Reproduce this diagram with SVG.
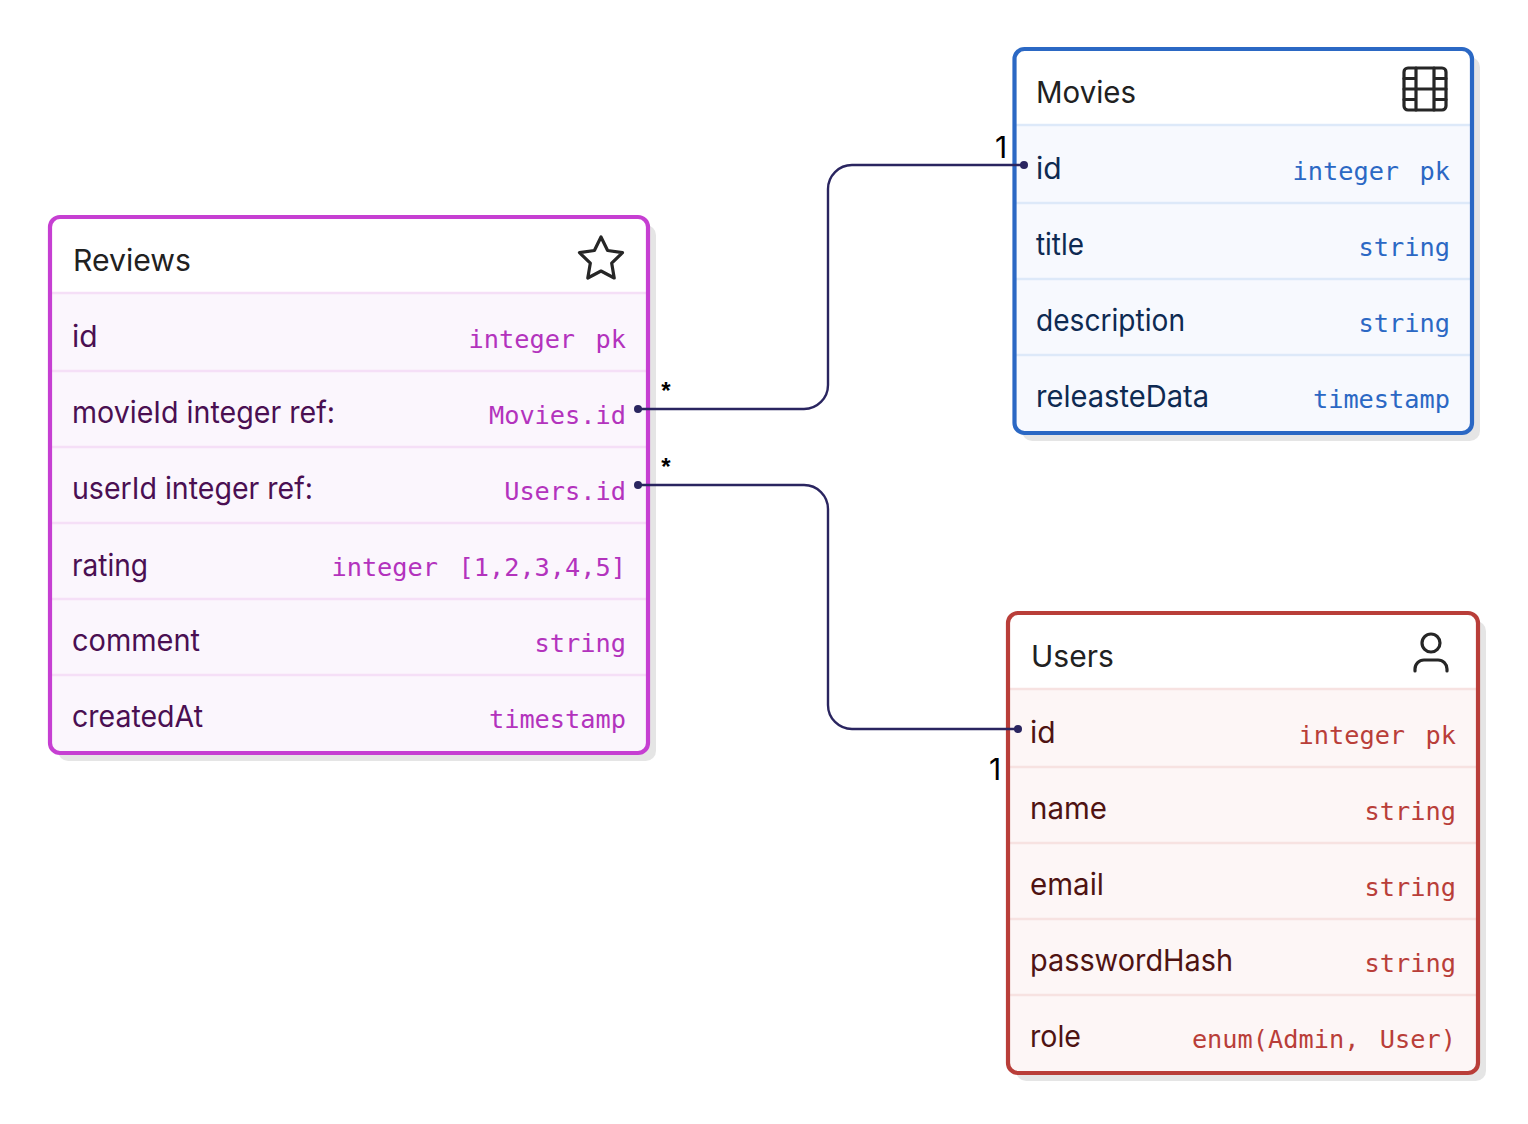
<svg xmlns="http://www.w3.org/2000/svg" width="1528" height="1124" viewBox="0 0 1528 1124">
<style>
text{font-family:"Inter","Liberation Sans",sans-serif;font-size:30px}
.t{fill:#212121}
.m{font-family:"DejaVu Sans Mono","Liberation Mono",monospace;font-size:25.3px;text-anchor:end;word-spacing:5.2px}
.shadow{fill:#000;fill-opacity:.1}
.box{stroke-width:4.2}
.sep{stroke-width:2.5}
.ico{fill:none;stroke:#262626;stroke-width:3.2;stroke-linecap:round;stroke-linejoin:round}
.edge{fill:none;stroke:#2a2560;stroke-width:2.4}
.dot{fill:#2a2560}
.lab{font-size:30px;fill:#000}
.star{font-family:"Liberation Sans",sans-serif;font-size:24px;fill:#000;font-weight:bold}
.rv .n{fill:#4a0f52}.rv .m{fill:#b333bd}.rv .sep{stroke:#f5dff7}.rv .bg{fill:#fbf6fd}.rv .box{stroke:#c63fd2}
.mv .n{fill:#0e2a52}.mv .m{fill:#2b68c4}.mv .sep{stroke:#dde9f9}.mv .bg{fill:#f7f9fe}.mv .box{stroke:#2b68c4}
.us .n{fill:#4f1312}.us .m{fill:#b93e39}.us .sep{stroke:#f7e2e1}.us .bg{fill:#fdf6f6}.us .box{stroke:#b93e39}
</style>
<g id="reviews" class="rv">
<rect class="shadow" x="58" y="225" width="598" height="536" rx="10"/>
<rect x="50" y="217" width="598" height="536" rx="10" fill="#fff"/>
<path class="bg" d="M50 293H648V743a10 10 0 0 1-10 10H60a10 10 0 0 1-10-10Z"/>
<path class="sep" d="M52 293H646M52 371H646M52 447H646M52 523H646M52 599H646M52 675H646"/>
<rect class="box" x="50" y="217" width="598" height="536" rx="10" fill="none"/>
<text class="t" x="73" y="271" textLength="118" lengthAdjust="spacingAndGlyphs">Reviews</text>
<path class="ico" d="M601 237l6.600 13.500 14.900 2.200-10.800 10.500 2.500 14.800-13.200-7-13.200 7 2.500-14.800-10.800-10.500 14.900-2.200Z"/>
<text class="n" x="72" y="347">id</text><text class="m" x="626" y="348">integer pk</text>
<text class="n" x="72" y="423" textLength="263" lengthAdjust="spacingAndGlyphs">movieId integer ref:</text><text class="m" x="626" y="424">Movies.id</text>
<text class="n" x="72" y="499" textLength="241" lengthAdjust="spacingAndGlyphs">userId integer ref:</text><text class="m" x="626" y="500">Users.id</text>
<text class="n" x="72" y="576" textLength="76" lengthAdjust="spacingAndGlyphs">rating</text><text class="m" x="626" y="576">integer [1,2,3,4,5]</text>
<text class="n" x="72" y="651" textLength="128" lengthAdjust="spacingAndGlyphs">comment</text><text class="m" x="626" y="652">string</text>
<text class="n" x="72" y="727" textLength="131" lengthAdjust="spacingAndGlyphs">createdAt</text><text class="m" x="626" y="728">timestamp</text>
</g>
<g id="movies" class="mv">
<rect class="shadow" x="1022" y="57" width="458" height="384" rx="10"/>
<rect x="1014.500" y="49" width="457.500" height="384" rx="10" fill="#fff"/>
<path class="bg" d="M1014.500 125H1472V423a10 10 0 0 1-10 10H1024.500a10 10 0 0 1-10-10Z"/>
<path class="sep" d="M1016 125H1470M1016 203H1470M1016 279H1470M1016 355H1470"/>
<rect class="box" x="1014.500" y="49" width="457.500" height="384" rx="10" fill="none"/>
<text class="t" x="1036" y="103" textLength="100" lengthAdjust="spacingAndGlyphs">Movies</text>
<rect class="ico" x="1404" y="68" width="42" height="42" rx="4"/>
<path class="ico" d="M1416 68V110M1434 68V110M1404 89H1446M1404 78.500H1416M1404 99.500H1416M1434 78.500H1446M1434 99.500H1446"/>
<text class="n" x="1036" y="179">id</text><text class="m" x="1450" y="180">integer pk</text>
<text class="n" x="1036" y="255" textLength="48" lengthAdjust="spacingAndGlyphs">title</text><text class="m" x="1450" y="256">string</text>
<text class="n" x="1036" y="331" textLength="149" lengthAdjust="spacingAndGlyphs">description</text><text class="m" x="1450" y="332">string</text>
<text class="n" x="1036" y="407" textLength="173" lengthAdjust="spacingAndGlyphs">releasteData</text><text class="m" x="1450" y="408">timestamp</text>
</g>
<g id="users" class="us">
<rect class="shadow" x="1016" y="621" width="470" height="460" rx="10"/>
<rect x="1008" y="613" width="470" height="460" rx="10" fill="#fff"/>
<path class="bg" d="M1008 689H1478V1063a10 10 0 0 1-10 10H1018a10 10 0 0 1-10-10Z"/>
<path class="sep" d="M1010 689H1476M1010 767H1476M1010 843H1476M1010 919H1476M1010 995H1476"/>
<rect class="box" x="1008" y="613" width="470" height="460" rx="10" fill="none"/>
<text class="t" x="1031" y="667">Users</text>
<circle class="ico" cx="1431" cy="643" r="9"/>
<path class="ico" d="M1415 671V669a9 9 0 0 1 9-9H1438a9 9 0 0 1 9 9V671"/>
<text class="n" x="1030" y="743">id</text><text class="m" x="1456" y="744">integer pk</text>
<text class="n" x="1030" y="819" textLength="77" lengthAdjust="spacingAndGlyphs">name</text><text class="m" x="1456" y="820">string</text>
<text class="n" x="1030" y="895" textLength="74" lengthAdjust="spacingAndGlyphs">email</text><text class="m" x="1456" y="896">string</text>
<text class="n" x="1030" y="971" textLength="203" lengthAdjust="spacingAndGlyphs">passwordHash</text><text class="m" x="1456" y="972">string</text>
<text class="n" x="1030" y="1047" textLength="51" lengthAdjust="spacingAndGlyphs">role</text><text class="m" x="1456" y="1048">enum(Admin, User)</text>
</g>
<g id="connectors">
<path class="edge" d="M638 409H804a24 24 0 0 0 24-24V189a24 24 0 0 1 24-24H1024"/>
<path class="edge" d="M638 485H804a24 24 0 0 1 24 24V705a24 24 0 0 0 24 24H1018"/>
<circle class="dot" cx="638" cy="409" r="4"/><circle class="dot" cx="1024" cy="165" r="4"/>
<circle class="dot" cx="638" cy="485" r="4"/><circle class="dot" cx="1018" cy="729" r="4"/>
<text class="star" x="666" y="399" text-anchor="middle">*</text>
<text class="star" x="666" y="475" text-anchor="middle">*</text>
<text class="lab" x="1001" y="158" text-anchor="middle">1</text>
<text class="lab" x="995" y="780" text-anchor="middle">1</text>
</g>
</svg>
